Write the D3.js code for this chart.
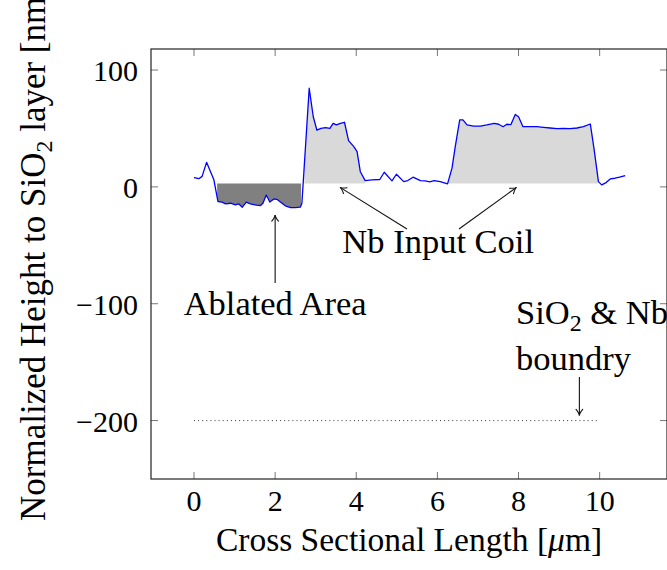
<!DOCTYPE html>
<html>
<head>
<meta charset="utf-8">
<script src="https://cdn.jsdelivr.net/npm/d3@7"></script>
<style>
  html, body { margin: 0; padding: 0; background: #fff; }
  svg text { font-family: "Liberation Serif", "Times New Roman", serif; fill: #000; }
</style>
</head>
<body>
<svg id="chart" width="667" height="570"></svg>
<script>
// Surface profile across the sample (position in µm, height in nm)
const positions = [0.00, 0.12, 0.20, 0.31, 0.49, 0.59, 0.69, 0.78, 0.90, 1.02, 1.10, 1.19, 1.29, 1.39, 1.54, 1.64, 1.70, 1.78, 1.87, 1.97, 2.06, 2.13, 2.25, 2.38, 2.50, 2.62, 2.66, 2.84, 2.94, 3.03, 3.13, 3.24, 3.35, 3.43, 3.51, 3.61, 3.71, 3.81, 3.94, 4.02, 4.10, 4.22, 4.39, 4.58, 4.69, 4.88, 4.99, 5.17, 5.27, 5.40, 5.58, 5.70, 5.81, 5.92, 6.07, 6.25, 6.36, 6.44, 6.55, 6.63, 6.73, 6.89, 7.06, 7.22, 7.40, 7.51, 7.62, 7.71, 7.81, 7.92, 8.00, 8.11, 8.29, 8.45, 8.62, 8.78, 8.95, 9.11, 9.27, 9.44, 9.60, 9.77, 9.86, 9.97, 10.05, 10.16, 10.26, 10.38, 10.49, 10.63];
const heights = [8, 7, 9, 21, 6, -12.5, -13, -14.5, -14, -15.4, -14.5, -17.4, -13, -14.5, -15.7, -16, -14, -7, -13, -10.3, -11, -13, -16.2, -17.7, -17.7, -17.4, -14, 84.4, 60, 48.5, 50, 50.7, 50, 54.4, 53, 54.4, 55.3, 39.6, 34.4, 30.2, 13, 5.4, 6, 6.3, 12.5, 5.1, 10.8, 4.5, 5.4, 8.3, 5.4, 5.1, 4.3, 5.4, 4.5, 2.6, 16, 34.4, 57.3, 57.3, 53, 52, 52, 53, 54.4, 53.6, 51.5, 53.6, 53.2, 62, 60, 51.5, 51.5, 51.5, 51, 50.4, 49.8, 50, 49.8, 50.4, 51.5, 53.8, 33, 4.5, 1.7, 3.7, 6.8, 7.4, 8.3, 9.7];

// Shaded regions, filled between the profile and the reference level
const fillBase = 3;
const ablatedSpan = [0.57, 2.64];
const coilSpans = [[2.72, 4.22], [6.25, 9.97]];

// SiO2 / Nb boundary level and its extent
const boundaryLevel = -200;
const boundarySpan = [0, 10];

// Axis ticks
const xTicks = [0, 2, 4, 6, 8, 10];
const yTicks = [100, 0, -100, -200];

const svg = d3.select("#chart");
const plotL = 151, plotR = 667, plotT = 49, plotB = 479;

const x = d3.scaleLinear().domain([-1.06, 11.66]).range([plotL, plotR]);
const y = d3.scaleLinear().domain([-250, 118]).range([plotB, plotT]);

const profile = positions.map((p, i) => ({ x: p, y: heights[i] }));
const interp = d3.scaleLinear().domain(positions).range(heights);

function spanPoints([a, b]) {
  const pts = [{ x: a, y: interp(a) }];
  profile.forEach(d => { if (d.x > a && d.x < b) pts.push(d); });
  pts.push({ x: b, y: interp(b) });
  return pts;
}

const area = d3.area().x(d => x(d.x)).y0(y(fillBase)).y1(d => y(d.y));

// Fills
svg.append("path").attr("d", area(spanPoints(ablatedSpan))).attr("fill", "#808080");
coilSpans.forEach(s => {
  svg.append("path").attr("d", area(spanPoints(s))).attr("fill", "#d9d9d9");
});

// Profile line
const line = d3.line().x(d => x(d.x)).y(d => y(d.y));
svg.append("path").attr("d", line(profile))
  .attr("fill", "none").attr("stroke", "#0000ff").attr("stroke-width", 1.3)
  .attr("stroke-linejoin", "round");

// Boundary (dotted)
svg.append("line")
  .attr("x1", x(boundarySpan[0])).attr("x2", x(boundarySpan[1]))
  .attr("y1", y(boundaryLevel)).attr("y2", y(boundaryLevel))
  .attr("stroke", "#222").attr("stroke-width", 0.9).attr("stroke-dasharray", "1 3.1");

// Frame and ticks
const tickLen = 7;
const tickG = svg.append("g").attr("stroke", "#777").attr("stroke-width", 1);
xTicks.forEach(t => {
  tickG.append("line").attr("x1", x(t)).attr("x2", x(t)).attr("y1", plotB).attr("y2", plotB - tickLen);
  tickG.append("line").attr("x1", x(t)).attr("x2", x(t)).attr("y1", plotT).attr("y2", plotT + tickLen);
});
yTicks.forEach(t => {
  tickG.append("line").attr("x1", plotL).attr("x2", plotL + tickLen).attr("y1", y(t)).attr("y2", y(t));
  tickG.append("line").attr("x1", plotR).attr("x2", plotR - tickLen).attr("y1", y(t)).attr("y2", y(t));
});
svg.append("rect").attr("x", plotL).attr("y", plotT)
  .attr("width", plotR - plotL).attr("height", plotB - plotT)
  .attr("fill", "none").attr("stroke", "#222").attr("stroke-width", 1.2);

// Tick labels
const fmt = v => (v < 0 ? "\u2212" + Math.abs(v) : String(v));
xTicks.forEach(t => {
  svg.append("text").attr("x", x(t)).attr("y", 511).attr("text-anchor", "middle")
    .attr("font-size", 30).text(fmt(t));
});
yTicks.forEach(t => {
  svg.append("text").attr("x", 138).attr("y", y(t) + 11).attr("text-anchor", "end")
    .attr("font-size", 30).text(fmt(t));
});

// Axis titles
const xt = svg.append("text").attr("x", (plotL + plotR) / 2).attr("y", 551)
  .attr("text-anchor", "middle").attr("font-size", 33.5);
xt.append("tspan").text("Cross Sectional Length [");
xt.append("tspan").attr("font-style", "italic").text("\u03bc");
xt.append("tspan").text("m]");

const yt = svg.append("text")
  .attr("transform", "translate(45,521) rotate(-90)")
  .attr("font-size", 35);
yt.append("tspan").text("Normalized Height to SiO");
yt.append("tspan").attr("font-size", 24).attr("dy", 7).text("2");
yt.append("tspan").attr("dy", -7).text(" layer [nm]");

// Arrows
function arrow(x1, y1, x2, y2) {
  const g = svg.append("g").attr("stroke", "#111").attr("stroke-width", 1.1).attr("fill", "none");
  g.append("line").attr("x1", x1).attr("y1", y1).attr("x2", x2).attr("y2", y2);
  const ang = Math.atan2(y2 - y1, x2 - x1), L = 7, w = 0.5;
  const p1 = [x2 - L * Math.cos(ang - w), y2 - L * Math.sin(ang - w)];
  const p2 = [x2 - L * Math.cos(ang + w), y2 - L * Math.sin(ang + w)];
  const c = [x2 - 2 * Math.cos(ang), y2 - 2 * Math.sin(ang)];
  g.append("path").attr("d", `M${p1[0]},${p1[1]} Q${c[0]},${c[1]} ${x2},${y2} Q${c[0]},${c[1]} ${p2[0]},${p2[1]}`)
    .attr("stroke-linecap", "round");
}

// Annotations
const annSize = 34.5;
svg.append("text").attr("x", x(2)).attr("y", 315).attr("text-anchor", "middle")
  .attr("font-size", annSize).text("Ablated Area");
arrow(x(2), 283, x(2), 215);

svg.append("text").attr("x", x(6.02)).attr("y", 253).attr("text-anchor", "middle")
  .attr("font-size", annSize).text("Nb Input Coil");
arrow(407, 229, x(3.6), y(0) + 0.5);
arrow(459, 229, x(7.95), y(0) + 0.5);

const sio = svg.append("text").attr("x", 516).attr("y", 324).attr("font-size", annSize);
sio.append("tspan").text("SiO");
sio.append("tspan").attr("font-size", 24).attr("dy", 7).text("2");
sio.append("tspan").attr("dy", -7).text(" & Nb");
svg.append("text").attr("x", 516).attr("y", 370).attr("font-size", annSize).text("boundry");
arrow(x(9.5), 377, x(9.5), y(boundaryLevel) - 5);
</script>
</body>
</html>
